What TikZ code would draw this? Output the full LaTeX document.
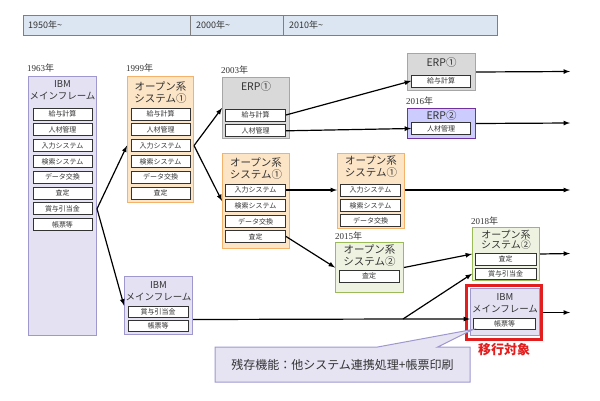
\documentclass[tikz,border=0pt]{standalone}
\usepackage{fontspec}
\setmainfont{Noto Sans CJK JP}
\newfontfamily\yearfont{Liberation Serif}
\usepackage{tikz}
\usetikzlibrary{positioning, shapes.callouts}
\definecolor{hdrfill}{HTML}{DCE6F2}
\definecolor{hdrline}{HTML}{7F7F7F}
\definecolor{ibmfill}{HTML}{E4E1F3}
\definecolor{ibmline}{HTML}{9F98CF}
\definecolor{openfill}{HTML}{FCE4C6}
\definecolor{openline}{HTML}{F4B26B}
\definecolor{erpfill}{HTML}{D9D9D9}
\definecolor{erpline}{HTML}{A6A6A6}
\definecolor{erptwofill}{HTML}{CCCCFF}
\definecolor{erptwoline}{HTML}{7030A0}
\definecolor{greenfill}{HTML}{EEF3E1}
\definecolor{greenline}{HTML}{9BBB59}
\definecolor{callfill}{HTML}{E6E3F3}
\definecolor{migred}{HTML}{E31E1E}
\definecolor{textgray}{HTML}{333333}

\begin{document}
\begin{tikzpicture}[x=1pt, y=-1pt, >=latex,
    box/.style={draw, line width=1pt, anchor=north west, inner sep=0pt},
    ibm/.style={box, draw=ibmline, fill=ibmfill},
    open/.style={box, draw=openline, fill=openfill},
    erp/.style={box, draw=erpline, fill=erpfill},
    erptwo/.style={box, draw=erptwoline, fill=erptwofill},
    green/.style={box, draw=greenline, fill=greenfill},
    title/.style={align=center, inner sep=0pt, text=textgray, font=\fontsize{9.5}{12}\selectfont},
    optitle/.style={title, font=\fontsize{10.5}{12}\selectfont},
    erptitle/.style={inner sep=0pt, text=textgray, font=\fontsize{10.5}{12}\selectfont},
    item/.style={draw=textgray, line width=0.8pt, fill=white, minimum width=59pt, minimum height=12pt, inner sep=0pt, text=textgray, font=\fontsize{7}{7.5}\selectfont},
    year/.style={anchor=west, inner sep=0pt, text=textgray, font=\fontsize{9}{9}\selectfont},
    era/.style={anchor=west, inner sep=0pt, text=textgray, font=\fontsize{9}{10}\selectfont},
    link/.style={->, line width=1.2pt, black}]
    \useasboundingbox (0,0) rectangle (600,400);

    % era header
    \draw[draw=hdrline, fill=hdrfill, line width=0.8pt] (23,15) rectangle (497,35);
    \draw[hdrline, line width=0.8pt] (190,15) -- (190,35) (283,15) -- (283,35);
    \node[era] (era1) at (28,25) {1950年\textasciitilde};
    \node[era] (era2) at (196,25) {2000年\textasciitilde};
    \node[era] (era3) at (289,25) {2010年\textasciitilde};

    % year labels
    \node[year] (y1963) at (27,68) {{\yearfont 1963}年};
    \node[year] (y1999) at (126,68) {{\yearfont 1999}年};
    \node[year] (y2003) at (221,70) {{\yearfont 2003}年};
    \node[year] (y2016) at (406,101) {{\yearfont 2016}年};
    \node[year] (y2015) at (335,236) {{\yearfont 2015}年};
    \node[year] (y2018) at (471,221) {{\yearfont 2018}年};

    % IBM mainframe 1963
    \node[ibm, minimum width=68pt, minimum height=259pt] (ibmA) at (28,76) {};
    \node[title] at ([yshift=-14.5pt]ibmA.north) {IBM\\メインフレーム};
    \node[item] (ibmA-1) at (62.5,114) {給与計算};
    \node[item, below=3pt of ibmA-1] (ibmA-2) {人材管理};
    \node[item, below=3pt of ibmA-2] (ibmA-3) {入力システム};
    \node[item, below=3pt of ibmA-3] (ibmA-4) {検索システム};
    \node[item, below=3pt of ibmA-4] (ibmA-5) {データ交換};
    \node[item, below=3pt of ibmA-5] (ibmA-6) {査定};
    \node[item, below=3pt of ibmA-6] (ibmA-7) {賞与引当金};
    \node[item, below=3pt of ibmA-7] (ibmA-8) {帳票等};

    % open system 1999
    \node[open, minimum width=66pt, minimum height=126pt] (osA) at (127,76) {};
    \node[optitle] at ([yshift=-16.5pt]osA.north) {オープン系\\システム①};
    \node[item] (osA-1) at (160.5,114) {給与計算};
    \node[item, below=3pt of osA-1] (osA-2) {人材管理};
    \node[item, below=3pt of osA-2] (osA-3) {入力システム};
    \node[item, below=3pt of osA-3] (osA-4) {検索システム};
    \node[item, below=3pt of osA-4] (osA-5) {データ交換};
    \node[item, below=3pt of osA-5] (osA-6) {査定};

    % ERP 2003
    \node[erp, minimum width=67pt, minimum height=61pt] (erpA) at (222,77) {};
    \node[erptitle] at ([yshift=-10pt]erpA.north) {ERP①};
    \node[item, minimum width=60pt] (erpA-1) at (255.5,115) {給与計算};
    \node[item, minimum width=60pt, below=3pt of erpA-1] (erpA-2) {人材管理};

    % open system, 2000s
    \node[open, minimum width=67pt, minimum height=95pt] (osB) at (222,153) {};
    \node[optitle] at ([yshift=-16pt]osB.north) {オープン系\\システム①};
    \node[item, minimum width=60pt] (osB-1) at (255.5,190) {入力システム};
    \node[item, minimum width=60pt, below=3pt of osB-1] (osB-2) {検索システム};
    \node[item, minimum width=60pt, below=3pt of osB-2] (osB-3) {データ交換};
    \node[item, minimum width=60pt, below=2pt of osB-3] (osB-4) {査定};

    % open system, 2010s
    \node[open, minimum width=67pt, minimum height=75pt] (osC) at (337,153) {};
    \node[optitle] at ([yshift=-14pt]osC.north) {オープン系\\システム①};
    \node[item, minimum width=60pt] (osC-1) at (370.5,190) {入力システム};
    \node[item, minimum width=60pt, below=3pt of osC-1] (osC-2) {検索システム};
    \node[item, minimum width=60pt, below=2pt of osC-2] (osC-3) {データ交換};

    % open system 2 (2015)
    \node[green, minimum width=68pt, minimum height=50pt] (osD) at (335,242) {};
    \node[optitle] at ([yshift=-14pt]osD.north) {オープン系\\システム②};
    \node[item, minimum width=60pt] (osD-1) at (369,276) {査定};

    % open system 2 (2018)
    \node[green, minimum width=67pt, minimum height=53pt] (osE) at (472,227) {};
    \node[optitle, font=\fontsize{10}{10.5}\selectfont] at ([yshift=-13pt]osE.north) {オープン系\\システム②};
    \node[item, minimum width=61pt] (osE-1) at (505.5,259) {査定};
    \node[item, minimum width=61pt, minimum height=11pt, below=2.5pt of osE-1] (osE-2) {賞与引当金};

    % IBM mainframe, reduced
    \node[ibm, minimum width=68pt, minimum height=58pt] (ibmB) at (124,276) {};
    \node[title] at ([yshift=-15pt]ibmB.north) {IBM\\メインフレーム};
    \node[item, minimum width=60pt, minimum height=11pt] (ibmB-1) at (158,312) {賞与引当金};
    \node[item, minimum width=60pt, minimum height=11pt, below=2.5pt of ibmB-1] (ibmB-2) {帳票等};

    % ERP 1 and ERP 2 (2016)
    \node[erp, minimum width=68pt, minimum height=37pt] (erpB) at (407,53) {};
    \node[erptitle] at ([yshift=-10pt]erpB.north) {ERP①};
    \node[item] (erpB-1) at (441,81) {給与計算};
    \node[erptwo, minimum width=68pt, minimum height=30pt] (erpC) at (407,108) {};
    \node[erptitle] at ([yshift=-8pt]erpC.north) {ERP②};
    \node[item] (erpC-1) at (441,128.5) {人材管理};

    % migration target
    \node[draw=migred, line width=2.5pt, minimum width=75pt, minimum height=54pt, inner sep=0pt] (mig) at (504,312.5) {};
    \node[ibm, minimum width=69pt, minimum height=47pt] (ibmC) at (470,288) {};
    \node[title] at ([yshift=-15pt]ibmC.north) {IBM\\メインフレーム};
    \node[item, minimum width=62pt, minimum height=11pt] (ibmC-1) at (504.5,323.5) {帳票等};
    \node[below=2pt of mig, inner sep=0pt, text=migred, font=\fontsize{13}{14}\selectfont\bfseries] (migtext) {移行対象};

    % remaining functions
    \node[rectangle callout, draw=ibmline, fill=callfill, line width=1pt, minimum width=255pt, minimum height=35pt, callout absolute pointer={(ibmC-1.south west)}, callout pointer width=60pt, text=textgray, font=\fontsize{12}{14}\selectfont] (note) at (342.5,364.5) {残存機能：他システム連携処理+帳票印刷};

    % free ends on the right
    \coordinate (out1) at (570,71.5);
    \coordinate (out2) at (570,123);
    \coordinate (out3) at (570,190);
    \coordinate (out4) at (570,253.5);
    \coordinate (out5) at (570,312.5);
    \coordinate (split) at (403,319);

    % connectors
    \draw[link] (ibmA.east |- ibmA-7) -- (osA.west |- osA-3);
    \draw[link] (ibmA.east |- ibmA-7) -- (ibmB.west);
    \draw[link] (osA.east |- osA-3) -- (erpA.west);
    \draw[link] (osA.east |- osA-3) -- (osB.west);
    \draw[link] (erpA-1.east) -- (erpB-1.west);
    \draw[link] (erpA-2.east) -- (erpC-1.west);
    \draw[link] (osB-1.east) -- (osC.west |- osB-1);
    \draw[link] (osB-4.east) -- (osD.west);
    \draw[link] (osD.east) -- (osE.west);
    \draw[link] ([yshift=-14pt]ibmB.east) -- (split) -- (split -| ibmC.west);
    \draw[link] (split) -- (osE.west |- osE-2);
    \draw[link] (erpB.east) -- (out1);
    \draw[link] (erpC.east) -- (out2);
    \draw[link] (osC.east |- osC-1) -- (out3);
    \draw[link] (osE.east) -- (out4);
    \draw[link] (mig.east) -- (out5);
\end{tikzpicture}
\end{document}
